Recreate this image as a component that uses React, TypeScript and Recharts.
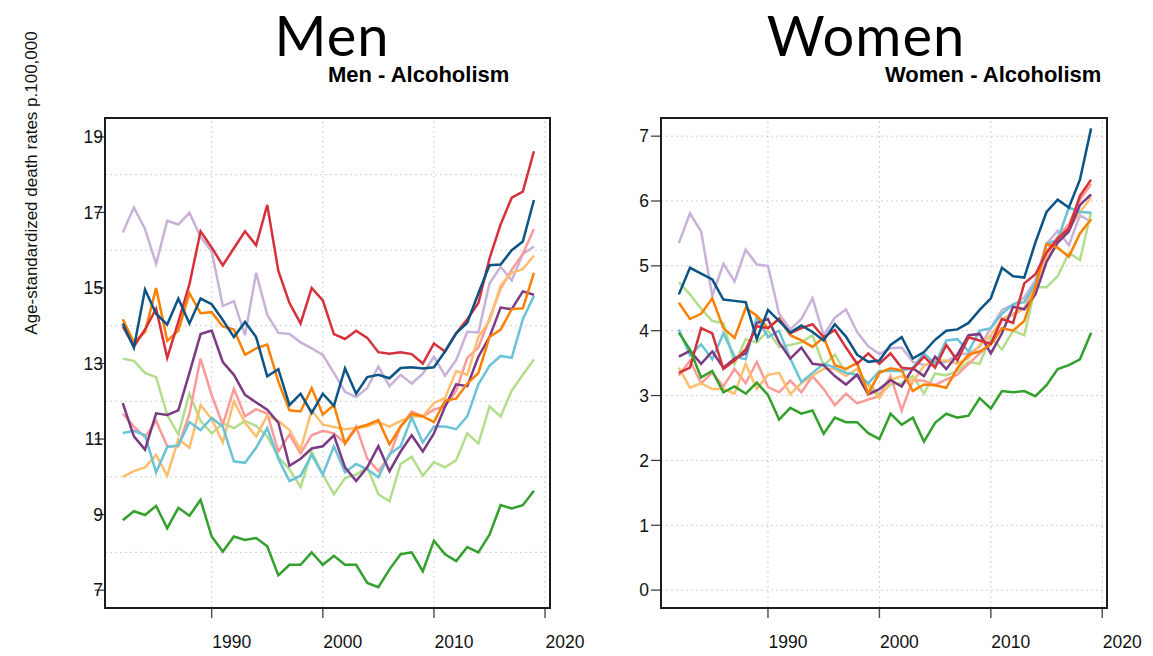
import React from 'react';
import { LineChart, Line, XAxis, YAxis, ReferenceLine } from 'recharts';

const years = [1982,1983,1984,1985,1986,1987,1988,1989,1990,1991,1992,1993,1994,1995,1996,1997,1998,1999,2000,2001,2002,2003,2004,2005,2006,2007,2008,2009,2010,2011,2012,2013,2014,2015,2016,2017,2018,2019];

const xTicks = [1990, 2000, 2010, 2020];
const menYTicks = [7, 9, 11, 13, 15, 17, 19];
const menGrid = [8, 10, 12, 14, 16, 18];
const womenYTicks = [0, 1, 2, 3, 4, 5, 6, 7];

const menLPurple = [16.47,17.13,16.56,15.64,16.78,16.68,16.99,16.35,15.97,14.52,14.65,13.75,15.4,14.29,13.81,13.78,13.56,13.4,13.23,12.75,12.25,12.11,12.35,12.92,12.4,12.7,12.47,12.73,13.18,12.68,13.09,13.84,13.82,15.12,15.56,15.2,15.9,16.1];
const menLGreen = [13.13,13.07,12.75,12.64,11.64,11.12,12.2,11.48,11.15,11.41,11.29,11.48,11.35,11.07,10.53,10.2,9.73,10.67,10.06,9.54,9.97,10.06,10.25,9.54,9.35,10.34,10.53,10.03,10.39,10.25,10.44,11.15,10.88,11.86,11.6,12.28,12.7,13.11];
const menPink = [11.67,11.33,11.05,11.48,10.81,10.81,11.67,13.13,12.16,11.38,12.33,11.6,11.79,11.67,10.67,11.12,10.62,11.1,11.22,11.15,10.89,11.33,10.48,10.15,10.56,11.33,11.73,11.6,11.78,11.87,12.28,13.15,13.42,14.19,14.98,15.48,15.9,16.56];
const menLOrange = [10.0,10.15,10.25,10.58,10.03,11.0,10.77,11.9,11.53,10.91,12.0,11.43,11.07,11.62,11.48,11.24,10.72,11.76,11.38,11.32,11.26,11.29,11.33,11.45,11.33,11.48,11.6,11.6,11.95,12.09,12.8,12.7,13.7,14.13,15.07,15.4,15.5,15.86];
const menCyan = [11.16,11.22,11.1,10.12,10.79,10.83,11.45,11.24,11.56,11.33,10.41,10.37,10.77,11.29,10.48,9.89,10.03,10.58,10.06,10.81,10.12,10.34,10.2,9.99,10.6,10.81,11.57,10.91,11.33,11.33,11.26,11.6,12.45,12.94,13.2,13.15,14.17,14.79];
const menPurple = [11.95,11.07,10.72,11.68,11.64,11.76,12.75,13.78,13.87,13.04,12.7,12.17,11.97,11.78,11.43,10.29,10.48,10.75,10.81,11.1,10.25,9.89,10.25,10.81,10.15,10.67,11.1,10.67,11.15,11.86,12.45,12.4,13.18,13.7,14.48,14.44,14.91,14.82];
const menOrange = [14.17,13.56,13.84,15.0,13.6,13.87,14.86,14.33,14.36,13.98,13.9,13.23,13.4,13.5,12.52,11.76,11.73,12.35,11.65,11.9,10.88,11.29,11.38,11.5,10.86,11.33,11.67,11.6,11.45,12.02,12.07,12.47,12.75,13.7,13.9,14.44,14.46,15.4];
const menRed = [13.98,13.45,13.9,14.45,13.15,14.1,15.1,16.5,16.07,15.6,16.05,16.5,16.13,17.2,15.45,14.6,14.06,15.0,14.67,13.78,13.65,13.87,13.68,13.3,13.26,13.3,13.25,13.0,13.53,13.32,13.8,14.17,14.6,15.78,16.68,17.39,17.55,18.62];
const menDGreen = [8.85,9.09,8.99,9.23,8.64,9.18,8.97,9.39,8.42,8.02,8.42,8.33,8.38,8.16,7.39,7.67,7.67,8.0,7.67,7.91,7.67,7.67,7.19,7.08,7.55,7.95,8.0,7.5,8.31,7.95,7.77,8.14,8.0,8.47,9.25,9.16,9.25,9.63];
const menDBlue = [14.06,13.42,14.96,14.32,14.03,14.72,14.06,14.72,14.57,14.15,13.7,14.1,13.7,12.66,12.85,11.9,12.2,11.69,12.2,11.88,12.87,12.2,12.64,12.7,12.61,12.88,12.9,12.87,12.9,13.32,13.8,14.08,14.86,15.6,15.62,16.0,16.23,17.33];

const womenLPurple = [5.35,5.81,5.53,4.54,5.03,4.76,5.25,5.02,5.0,4.26,4.02,4.18,4.5,3.93,4.2,4.33,3.98,3.76,3.64,3.73,3.74,3.52,3.47,3.49,3.52,3.63,3.65,3.75,4.04,4.32,4.4,4.51,4.78,5.34,5.54,5.32,5.78,5.68];
const womenLGreen = [4.75,4.56,4.34,4.15,4.12,3.49,3.87,3.82,4.0,3.75,3.78,3.82,3.93,3.46,3.63,3.35,3.32,3.19,3.01,3.17,3.19,3.3,3.03,3.34,3.31,3.38,3.52,3.49,3.9,3.71,4.0,3.93,4.67,4.67,4.84,5.2,5.09,5.83];
const womenPink = [3.31,3.54,3.19,3.35,3.14,3.41,3.19,3.52,3.13,3.05,3.23,3.05,3.3,3.1,2.85,3.03,2.88,2.94,2.99,3.3,2.77,3.24,3.23,3.16,3.25,3.32,3.49,3.65,3.79,4.18,4.26,4.34,4.7,5.22,5.45,5.64,6.02,6.26];
const womenLOrange = [3.43,3.12,3.19,3.1,3.1,3.03,3.49,3.1,3.32,3.35,3.02,3.19,3.31,3.41,3.41,3.3,3.41,3.16,2.96,3.24,3.3,3.21,3.46,3.54,3.54,3.49,3.58,3.78,3.93,4.18,4.24,4.34,4.65,5.11,5.39,5.56,5.83,6.05];
const womenCyan = [4.02,3.62,3.79,3.56,3.96,3.6,3.56,4.21,3.9,4.0,3.57,3.21,3.35,3.49,3.43,3.35,3.32,3.19,3.38,3.38,3.38,3.43,3.65,3.49,3.85,3.87,3.68,4.0,4.04,4.26,4.41,4.44,4.73,5.34,5.4,5.9,5.83,5.82];
const womenPurple = [3.6,3.69,3.49,3.68,3.43,3.57,3.65,4.12,4.18,3.82,3.57,3.74,3.49,3.47,3.3,3.17,3.32,3.02,3.1,3.24,3.14,3.42,3.3,3.6,3.41,3.63,3.93,3.95,3.65,3.96,4.37,4.33,4.56,5.06,5.36,5.53,5.94,6.1];
const womenOrange = [4.43,4.18,4.26,4.5,4.04,3.89,4.35,4.23,4.04,4.19,3.93,3.85,3.75,3.9,3.47,3.41,3.5,3.03,3.35,3.42,3.39,3.07,3.17,3.16,3.12,3.42,3.63,3.68,3.79,4.04,4.0,4.15,4.67,5.34,5.28,5.14,5.5,5.72];
const womenRed = [3.35,3.43,4.04,3.96,3.41,3.54,3.71,4.07,4.04,4.18,3.96,4.04,4.1,3.9,4.01,3.74,3.49,3.65,3.49,3.65,3.43,3.41,3.6,3.43,3.78,3.54,3.9,3.85,3.8,4.18,4.12,4.73,4.87,5.2,5.42,5.58,6.08,6.33];
const womenDGreen = [3.97,3.71,3.28,3.38,3.05,3.14,3.03,3.2,3.01,2.63,2.81,2.72,2.77,2.41,2.66,2.59,2.59,2.42,2.33,2.72,2.55,2.66,2.29,2.58,2.72,2.66,2.69,2.96,2.8,3.07,3.05,3.07,2.99,3.16,3.41,3.47,3.56,3.97];
const womenDBlue = [4.56,4.97,4.88,4.79,4.48,4.46,4.44,3.87,4.32,4.15,3.97,4.08,3.98,3.85,4.1,3.91,3.63,3.52,3.54,3.78,3.9,3.57,3.67,3.86,4.0,4.02,4.12,4.32,4.5,4.97,4.84,4.82,5.36,5.83,6.02,5.9,6.33,7.12];

const seriesOrder = ['lpurple', 'lgreen', 'pink', 'lorange', 'cyan', 'purple', 'orange', 'red', 'dgreen', 'dblue'];
const seriesColors: Record<string, string> = {
  lpurple: '#C8B2D7',
  lgreen: '#B2DE8C',
  pink: '#FB9A99',
  lorange: '#FDBF6F',
  cyan: '#6CC2D6',
  purple: '#7A3B82',
  orange: '#FF7F00',
  red: '#D6313B',
  dgreen: '#33A02C',
  dblue: '#0B5483',
};

function buildRows(series: Record<string, number[]>) {
  return years.map((year, i) => {
    const row: Record<string, number> = { year };
    Object.keys(series).forEach((k) => {
      row[k] = series[k][i];
    });
    return row;
  });
}

const menRows = buildRows({
  lpurple: menLPurple, lgreen: menLGreen, pink: menPink, lorange: menLOrange, cyan: menCyan,
  purple: menPurple, orange: menOrange, red: menRed, dgreen: menDGreen, dblue: menDBlue,
});
const womenRows = buildRows({
  lpurple: womenLPurple, lgreen: womenLGreen, pink: womenPink, lorange: womenLOrange, cyan: womenCyan,
  purple: womenPurple, orange: womenOrange, red: womenRed, dgreen: womenDGreen, dblue: womenDBlue,
});

const FONT = '"Liberation Sans", Arial, sans-serif';
const X_DOMAIN: [number, number] = [1980.4, 2020.4];

type PanelProps = {
  rows: Record<string, number>[];
  left: number;
  width: number;
  margin: { top: number; right: number; bottom: number; left: number };
  yAxisWidth: number;
  yDomain: [number, number];
  yTicks: number[];
  gridY: number[];
  labelGap: number;
};

function Panel({ rows, left, width, margin, yAxisWidth, yDomain, yTicks, gridY, labelGap }: PanelProps) {
  const height = 656;
  const plotLeft = margin.left + yAxisWidth;
  const xAxisHeight = 48;
  const plotBottom = height - margin.bottom - xAxisHeight;
  const plotTop = margin.top;
  const plotRight = width - margin.right;

  const renderYTick = (props: any) => {
    const { y, payload } = props;
    return (
      <g>
        <line x1={plotLeft - 10} x2={plotLeft} y1={y} y2={y} stroke="#333" strokeWidth={1.2} />
        <text x={plotLeft - labelGap} y={y} dy="0.36em" textAnchor="end" fontFamily={FONT} fontSize={17.5} fill="#111">
          {payload.value}
        </text>
      </g>
    );
  };

  const renderXTick = (props: any) => {
    const { x, payload } = props;
    return (
      <g>
        <line x1={x} x2={x} y1={plotBottom} y2={plotBottom + 10} stroke="#555" strokeWidth={1.5} />
        <text x={x + 20} y={plotBottom + 40} textAnchor="middle" fontFamily={FONT} fontSize={17.5} fill="#111">
          {payload.value}
        </text>
      </g>
    );
  };

  return (
    <div style={{ position: 'absolute', left, top: 0, width, height }}>
      <LineChart width={width} height={height} data={rows} margin={margin}>
        <XAxis
          dataKey="year"
          type="number"
          domain={X_DOMAIN}
          ticks={xTicks}
          interval={0}
          allowDataOverflow
          height={xAxisHeight}
          axisLine={false}
          tickLine={false}
          tick={renderXTick}
        />
        <YAxis
          type="number"
          domain={yDomain}
          ticks={yTicks}
          interval={0}
          allowDataOverflow
          width={yAxisWidth}
          axisLine={false}
          tickLine={false}
          tick={renderYTick}
        />
        {gridY.map((v) => (
          <ReferenceLine key={'gy' + v} y={v} stroke="#d0d0d0" strokeDasharray="2 3" strokeWidth={1} />
        ))}
        {xTicks.map((v) => (
          <ReferenceLine key={'gx' + v} x={v} stroke="#d0d0d0" strokeDasharray="2 3" strokeWidth={1} />
        ))}
        {seriesOrder.map((k) => (
          <Line
            key={k}
            type="linear"
            dataKey={k}
            stroke={seriesColors[k]}
            strokeWidth={2.5}
            dot={false}
            activeDot={false}
            isAnimationActive={false}
          />
        ))}
      </LineChart>
      <div
        style={{
          position: 'absolute',
          left: plotLeft - 1,
          top: plotTop - 1,
          width: plotRight - plotLeft + 2,
          height: plotBottom - plotTop + 2,
          border: '2px solid #1c1c1c',
          boxSizing: 'border-box',
          pointerEvents: 'none',
          zIndex: 5,
        }}
      />
    </div>
  );
}

export default function App() {
  return (
    <div style={{ position: 'absolute', left: 0, top: 0, width: 1153, height: 656, background: '#fff', overflow: 'hidden' }}>
      <Panel
        rows={menRows}
        left={0}
        width={600}
        margin={{ top: 118, right: 50.5, bottom: 0, left: 45 }}
        yAxisWidth={60}
        yDomain={[6.527, 19.5]}
        yTicks={menYTicks}
        gridY={menGrid}
        labelGap={2}
      />
      <Panel
        rows={womenRows}
        left={600}
        width={553}
        margin={{ top: 118, right: 46.3, bottom: 0, left: 11 }}
        yAxisWidth={50}
        yDomain={[-0.276, 7.28]}
        yTicks={womenYTicks}
        gridY={womenYTicks}
        labelGap={12}
      />
      <svg width={1153} height={656} style={{ position: 'absolute', left: 0, top: 0, pointerEvents: 'none' }}>
        <text x={332} y={56} textAnchor="middle" fontFamily="Lato, 'Open Sans', sans-serif" fontSize={56} letterSpacing={1} fill="#000">Men</text>
        <text x={866} y={56} textAnchor="middle" fontFamily="Lato, 'Open Sans', sans-serif" fontSize={56} letterSpacing={1} fill="#000">Women</text>
        <text x={328} y={82} fontFamily={FONT} fontSize={22} fontWeight="bold" fill="#000">Men - Alcoholism</text>
        <text x={885} y={82} fontFamily={FONT} fontSize={22} fontWeight="bold" fill="#000">Women - Alcoholism</text>
        <text
          transform="translate(37,183) rotate(-90)"
          textAnchor="middle"
          fontFamily={FONT}
          fontSize={17}
          fill="#111"
        >
          Age-standardized death rates p.100,000
        </text>
      </svg>
    </div>
  );
}
